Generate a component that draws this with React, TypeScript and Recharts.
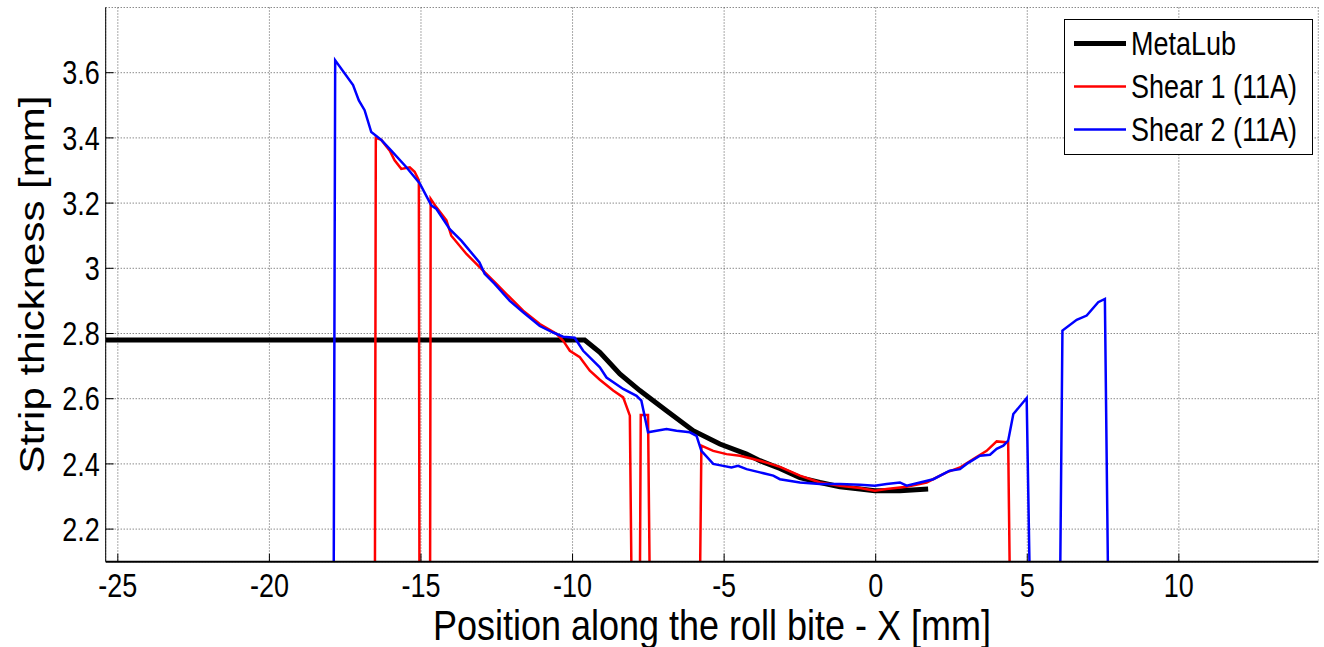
import { LineChart, Line, XAxis, YAxis, CartesianGrid, Legend } from "recharts";

const xTicks = [-25, -20, -15, -10, -5, 0, 5, 10];
const yTicks = [2.2, 2.4, 2.6, 2.8, 3, 3.2, 3.4, 3.6];
const xRange: [number, number] = [-25.4, 14.6];
const yRange: [number, number] = [2.1, 3.8];

// [position X (mm), strip thickness (mm)]; 2.0 = drop below the visible range
const metaLub: [number, number][] = [
  [-25.4, 2.78], [-9.6, 2.78], [-9.1, 2.742], [-8.44, 2.676], [-7.78, 2.625],
  [-6.9, 2.563], [-6.02, 2.502], [-5.14, 2.461], [-4.26, 2.43], [-3.82, 2.41],
  [-3.16, 2.386], [-2.5, 2.358], [-1.84, 2.343], [-1.18, 2.33], [-0.52, 2.323],
  [-0.03, 2.318], [0.8, 2.318], [1.73, 2.323],
];

const shear1: [number, number][] = [
  [-16.52, 2.0], [-16.49, 3.4], [-16.31, 3.394], [-16.03, 3.361], [-15.87, 3.331],
  [-15.65, 3.305], [-15.37, 3.31], [-15.21, 3.296], [-15.07, 3.27], [-15.05, 2.0],
  [-14.7, 2.0], [-14.68, 3.213], [-14.49, 3.187], [-14.16, 3.147], [-14.0, 3.1],
  [-13.5, 3.044], [-12.95, 2.993], [-12.51, 2.952], [-12.18, 2.921], [-11.63, 2.87],
  [-11.08, 2.829], [-10.53, 2.799], [-10.31, 2.778], [-10.09, 2.747], [-9.76, 2.727],
  [-9.43, 2.686], [-9.1, 2.658], [-8.66, 2.625], [-8.33, 2.604], [-8.11, 2.548],
  [-8.05, 2.0], [-7.78, 2.0], [-7.75, 2.55], [-7.51, 2.55], [-7.45, 2.0],
  [-5.8, 2.0], [-5.75, 2.456], [-5.36, 2.44], [-4.92, 2.43], [-4.48, 2.425],
  [-4.04, 2.415], [-3.6, 2.404], [-3.16, 2.391], [-2.5, 2.364], [-1.84, 2.343],
  [-1.18, 2.333], [-0.52, 2.326], [-0.03, 2.318], [0.36, 2.323], [1.02, 2.33],
  [1.68, 2.343], [2.34, 2.374], [2.78, 2.389], [3.22, 2.415], [3.66, 2.44],
  [3.99, 2.469], [4.37, 2.466], [4.43, 2.0],
];

const shear2: [number, number][] = [
  [-17.88, 2.0], [-17.83, 3.638], [-17.24, 3.562], [-17.05, 3.515], [-16.86, 3.485],
  [-16.64, 3.418], [-16.31, 3.394], [-15.98, 3.361], [-15.48, 3.31], [-15.04, 3.26],
  [-14.66, 3.193], [-14.49, 3.182], [-14.05, 3.12], [-13.67, 3.085], [-13.07, 3.018],
  [-12.9, 2.983], [-12.57, 2.952], [-12.07, 2.9], [-11.63, 2.865], [-11.08, 2.823],
  [-10.64, 2.803], [-10.31, 2.79], [-9.93, 2.787], [-9.65, 2.747], [-9.1, 2.696],
  [-8.88, 2.665], [-8.33, 2.63], [-7.89, 2.609], [-7.73, 2.594], [-7.51, 2.497],
  [-7.23, 2.502], [-6.9, 2.507], [-6.57, 2.502], [-6.13, 2.497], [-5.91, 2.486],
  [-5.75, 2.44], [-5.36, 2.4], [-5.03, 2.394], [-4.76, 2.389], [-4.54, 2.394],
  [-4.26, 2.384], [-3.82, 2.374], [-3.38, 2.364], [-3.16, 2.353], [-2.5, 2.343],
  [-1.84, 2.338], [-1.18, 2.338], [-0.52, 2.336], [-0.03, 2.333], [0.36, 2.338],
  [0.8, 2.343], [1.02, 2.333], [1.46, 2.343], [1.9, 2.353], [2.44, 2.379],
  [2.78, 2.384], [3.0, 2.4], [3.44, 2.425], [3.77, 2.428], [3.99, 2.446],
  [4.21, 2.456], [4.37, 2.471], [4.54, 2.553], [4.98, 2.602], [5.09, 2.0],
  [6.08, 2.0], [6.16, 2.809], [6.63, 2.842], [6.96, 2.855], [7.34, 2.896],
  [7.56, 2.906], [7.67, 2.0],
];

const series = [
  { name: "MetaLub", points: metaLub, color: "#000000", width: 5 },
  { name: "Shear 1 (11A)", points: shear1, color: "#ff0000", width: 2.5 },
  { name: "Shear 2 (11A)", points: shear2, color: "#0000ff", width: 2.5 },
];

const FONT = '"Liberation Sans", Arial, Helvetica, sans-serif';
const STRETCH = 1.2; // the picture's text is taller than Arial

const fmt = (v: number) => `${+v.toFixed(1)}`;

function XTick({ x, y, payload }: any) {
  return (
    <text transform={`translate(${x},${y}) scale(1,${STRETCH})`} textAnchor="middle" fontSize={27} fill="#000">
      {fmt(payload.value)}
    </text>
  );
}

function YTick({ x, y, payload }: any) {
  return (
    <text transform={`translate(${x},${y}) scale(1,${STRETCH})`} textAnchor="end" dy="0.358em" fontSize={27} fill="#000">
      {fmt(payload.value)}
    </text>
  );
}

// mirrored axes only carry tick marks
const NoLabel = () => <g />;

function XLabel({ viewBox }: any) {
  const { x, y, width } = viewBox;
  return (
    <text transform={`translate(${x + width / 2},${y + 78}) scale(1,${STRETCH})`} textAnchor="middle" fontSize={36} fill="#000">
      Position along the roll bite - X [mm]
    </text>
  );
}

function YLabel({ viewBox }: any) {
  const { y, height } = viewBox;
  return (
    <text transform={`translate(44,${y + height / 2}) rotate(-90) scale(${STRETCH},1)`} textAnchor="middle" fontSize={35} fill="#000">
      Strip thickness [mm]
    </text>
  );
}

function LegendBox() {
  return (
    <svg width={250} height={137} style={{ display: "block", fontFamily: FONT }}>
      <rect x={0.5} y={0.5} width={248} height={135} fill="#fff" stroke="#000" />
      {series.map((s, i) => {
        const cy = 24.5 + i * 43;
        return (
          <g key={s.name}>
            <line x1={10} x2={62} y1={cy} y2={cy} stroke={s.color} strokeWidth={s.width} />
            <text transform={`translate(67,${cy + 11.6}) scale(1,${STRETCH})`} fontSize={27} fill="#000">
              {s.name}
            </text>
          </g>
        );
      })}
    </svg>
  );
}

export default function App() {
  return (
    <div style={{ position: "absolute", left: 0, top: 0, fontFamily: FONT, background: "#fff" }}>
      <LineChart width={1324} height={647} margin={{ top: 7.5, right: 5.7, left: 0, bottom: 0 }}>
        <CartesianGrid stroke="#555" strokeDasharray="1 2" />
        <XAxis
          type="number"
          dataKey="x"
          domain={xRange}
          ticks={xTicks}
          allowDataOverflow
          height={85.3}
          tickSize={-8}
          tickMargin={43.3}
          tick={<XTick />}
          axisLine={{ stroke: "#000", strokeWidth: 2 }}
          tickLine={{ stroke: "#000" }}
          label={<XLabel />}
        />
        <XAxis
          xAxisId="top"
          orientation="top"
          type="number"
          dataKey="x"
          domain={xRange}
          ticks={xTicks}
          allowDataOverflow
          height={0}
          tickSize={-8}
          tick={NoLabel}
          axisLine={{ stroke: "#000", strokeWidth: 1 }}
          tickLine={{ stroke: "#000" }}
        />
        <YAxis
          type="number"
          domain={yRange}
          ticks={yTicks}
          allowDataOverflow
          width={105.7}
          tickSize={-8}
          tickMargin={14}
          tick={<YTick />}
          axisLine={{ stroke: "#000", strokeWidth: 1 }}
          tickLine={{ stroke: "#000" }}
          label={<YLabel />}
        />
        <YAxis
          yAxisId="right"
          orientation="right"
          type="number"
          domain={yRange}
          ticks={yTicks}
          allowDataOverflow
          width={0}
          tickSize={-8}
          tick={NoLabel}
          axisLine={{ stroke: "#000", strokeWidth: 1 }}
          tickLine={{ stroke: "#000" }}
        />
        <Legend
          layout="vertical"
          align="center"
          verticalAlign="middle"
          content={() => <LegendBox />}
          wrapperStyle={{ left: 1064, top: 19, width: 250, height: 137 }}
        />
        {series.map((s) => (
          <Line
            key={s.name}
            name={s.name}
            data={s.points.map(([x, y]) => ({ x, y }))}
            dataKey="y"
            type="linear"
            stroke={s.color}
            strokeWidth={s.width}
            dot={false}
            activeDot={false}
            isAnimationActive={false}
          />
        ))}
      </LineChart>
    </div>
  );
}
